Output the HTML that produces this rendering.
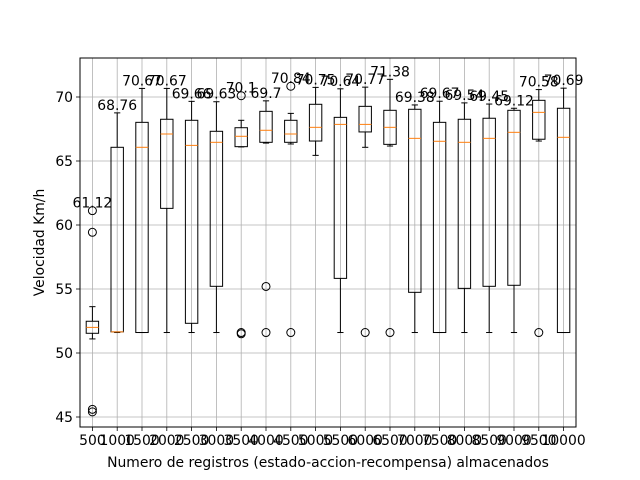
<!DOCTYPE html>
<html><head><meta charset="utf-8"><style>
body{margin:0;background:#fff}
svg{display:block;font-family:"DejaVu Sans","Liberation Sans",sans-serif}
</style></head><body>
<svg id="chart" width="640" height="480"></svg>
<script>
const categories=["500","1000","1500","2000","2500","3000","3500","4000","4500","5000","5500","6000","6500","7000","7500","8000","8500","9000","9500","10000"];
const whiskerLow=[51.1,51.6,51.6,51.6,51.6,51.6,66.1,66.4,66.33,65.44,51.6,66.07,66.17,51.6,51.6,51.6,51.6,51.6,66.56,51.6];
const q1=[51.54,51.65,51.6,61.3,52.32,55.21,66.12,66.46,66.46,66.56,55.83,67.27,66.3,54.74,51.6,55.05,55.21,55.29,66.7,51.6];
const medians=[52.0,51.65,66.07,67.11,66.22,66.46,66.93,67.4,67.11,67.63,67.86,67.86,67.63,66.77,66.54,66.46,66.77,67.24,68.8,66.85];
const q3=[52.48,66.07,68.02,68.26,68.18,67.32,67.6,68.88,68.18,69.43,68.41,69.27,68.96,69.04,68.02,68.26,68.34,68.96,69.74,69.12];
const whiskerHigh=[53.62,68.76,70.67,70.67,69.66,69.63,68.18,69.7,68.72,70.75,70.64,70.77,71.38,69.38,69.67,69.54,69.45,69.12,70.58,70.69];
const fliers=[[61.12,59.43,45.6,45.4],[],[],[],[],[],[70.1,51.6,51.5],[55.2,51.6],[70.84,51.6],[],[],[51.6],[51.6],[],[],[],[],[],[51.6],[]];
const maxLabels=["61.12","68.76","70.67","70.67","69.66","69.63","70.1","69.7","70.84","70.75","70.64","70.77","71.38","69.38","69.67","69.54","69.45","69.12","70.58","70.69"];
const maxValues=[61.12,68.76,70.67,70.67,69.66,69.63,70.1,69.7,70.84,70.75,70.64,70.77,71.38,69.38,69.67,69.54,69.45,69.12,70.58,70.69];
const yTicks=[45,50,55,60,65,70];

const L=80,R=576,T=58,B=427;
const FS=13.9;
const y=v=>417-(v-45)*12.8;
const step=(R-L)/categories.length;
const x=i=>L+step*(i+0.5);
const svg=document.getElementById('chart');
const NS='http://www.w3.org/2000/svg';
function mk(tag,attrs,parent){const e=document.createElementNS(NS,tag);for(const k in attrs)e.setAttribute(k,attrs[k]);(parent||svg).appendChild(e);return e;}

const grid=mk('g',{});


yTicks.forEach(t=>{mk('line',{x1:L,x2:R,y1:y(t),y2:y(t),stroke:'#b0b0b0','stroke-width':0.8},grid);});
categories.forEach((c,i)=>{mk('line',{x1:x(i),x2:x(i),y1:T,y2:B,stroke:'#b0b0b0','stroke-width':0.8},grid);});

const hw=step*0.25, cw=step*0.125;
categories.forEach((c,i)=>{
  const g=mk('g',{});
  
  
  const X=x(i);
  mk('line',{x1:X,x2:X,y1:y(whiskerLow[i]),y2:y(q1[i]),stroke:'#000','stroke-width':1},g);
  mk('line',{x1:X,x2:X,y1:y(q3[i]),y2:y(whiskerHigh[i]),stroke:'#000','stroke-width':1},g);
  mk('line',{x1:X-cw,x2:X+cw,y1:y(whiskerLow[i]),y2:y(whiskerLow[i]),stroke:'#000','stroke-width':1},g);
  mk('line',{x1:X-cw,x2:X+cw,y1:y(whiskerHigh[i]),y2:y(whiskerHigh[i]),stroke:'#000','stroke-width':1},g);
  mk('rect',{x:X-hw,y:y(q3[i]),width:2*hw,height:Math.max(0.5,y(q1[i])-y(q3[i])),fill:'none',stroke:'#000','stroke-width':1},g);
  mk('line',{x1:X-hw,x2:X+hw,y1:y(medians[i]),y2:y(medians[i]),stroke:'#ff7f0e','stroke-width':1},g);
  fliers[i].forEach(f=>{mk('circle',{cx:X,cy:y(f),r:4,fill:'none',stroke:'#000','stroke-width':1},g);});
  const t=mk('text',{x:X,y:y(maxValues[i])-3,'text-anchor':'middle','font-size':FS,fill:'#000'});
  t.textContent=maxLabels[i];
  
  
  mk('line',{x1:X,x2:X,y1:B,y2:B+4,stroke:'#000','stroke-width':0.8});
  const xl=mk('text',{x:X,y:B+18,'text-anchor':'middle','font-size':FS,fill:'#000'});
  xl.textContent=c;
  
  
});
yTicks.forEach(t=>{
  mk('line',{x1:L-4,x2:L,y1:y(t),y2:y(t),stroke:'#000','stroke-width':0.8});
  const tl=mk('text',{x:L-7,y:y(t)+5,'text-anchor':'end','font-size':FS,fill:'#000'});
  tl.textContent=t;
  
  
});
const frame=mk('rect',{x:L,y:T,width:R-L,height:B-T,fill:'none',stroke:'#000','stroke-width':1});


const xt=mk('text',{x:(L+R)/2,y:467,'text-anchor':'middle','font-size':FS,fill:'#000'});
xt.textContent='Numero de registros (estado-accion-recompensa) almacenados';


const yt=mk('text',{x:0,y:0,'text-anchor':'middle','font-size':FS,fill:'#000',transform:'translate(44,'+((T+B)/2)+') rotate(-90)'});
yt.textContent='Velocidad Km/h';


</script>
</body></html>
